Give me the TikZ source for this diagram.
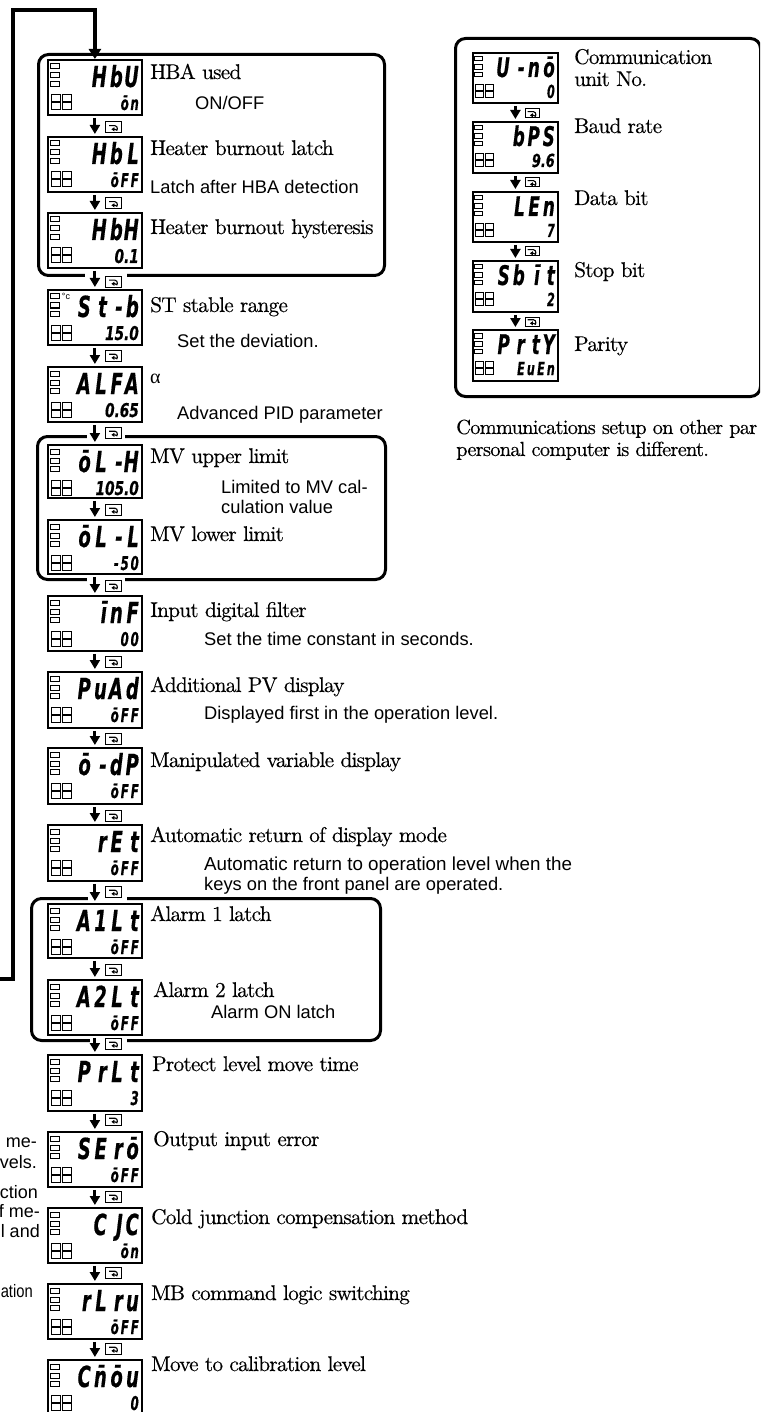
\documentclass[tikz,border=0pt]{standalone}
\usepackage{fontspec}
\usepackage{graphicx}
\usetikzlibrary{arrows.meta,calc}
\newfontfamily\dfont[FakeBold=0.6]{DejaVu Sans}
\newfontfamily\lsans{Liberation Sans}
\newfontfamily\lserif{Liberation Serif}
\newfontfamily\lmser[Extension=.otf,FakeBold=0.25,LetterSpace=-3.6]{lmroman10-regular}
\makeatletter
\newcommand\segrow[3]{\@tfor\seg@x:=#3\do{\makebox[#2][r]{\scalebox{#1}[1]{\seg@x}}}}
\makeatother
\newcommand\nums[1]{\scalebox{1.16}[1]{#1}}
\newcommand\bigf{\fontsize{29}{29}\selectfont\dfont\bfseries\itshape}
\newcommand\smlf{\fontsize{19}{19}\selectfont\dfont\bfseries\itshape}
\newcommand\bigp{16pt}
\newcommand\smlp{10pt}
\newcommand\bigy{28}
\newcommand\smly{51}
\newcommand\dscale{1}
\newcounter{lbl}
\tikzset{
  dispbox/.style={draw,line width=1.8,fill=white,inner sep=0,anchor=north west},
  lamp/.style={line width=1},
  segtext/.style={anchor=base east,inner sep=0},
  serlabel/.style={anchor=base west,inner sep=0,font=\fontsize{21.3}{21.3}\selectfont\lmser},
  sanlabel/.style={anchor=base west,inner sep=0,font=\fontsize{18.3}{18.3}\selectfont\lsans},
  sanright/.style={anchor=base east,inner sep=0,font=\fontsize{18}{18}\selectfont\lsans},
  grp/.style={draw,line width=3,rounded corners=10,inner sep=0,anchor=north west},
  gapfill/.style={fill=white,draw=none},
  stepline/.style={line width=3,-{Stealth[length=9,width=10,inset=0]},shorten >=2,shorten <=2},
  fbline/.style={line width=3.6,miter limit=10,-{Stealth[length=10,width=12,inset=0]}},
  keybox/.style={draw,line width=1,fill=white,inner sep=0},
  keyglyph/.style={line width=1.1,-{Stealth[length=3,width=4,inset=0]}},
}
\newcommand\disp[7]{%
  \begin{scope}[shift={(#2,#3)}]
    \node[dispbox,minimum width=#4pt,minimum height=#5pt] (#1) at (0,0) {};
    \begin{scope}[scale=\dscale]
      \draw[lamp] (3,5) rectangle (12,10);
      \draw[lamp] (3,14) rectangle (12,19);
      \draw[lamp] (3,22.5) rectangle (12,27.5);
      \draw[lamp] (4,36) rectangle (13,43);
      \draw[lamp] (15,36) rectangle (24,43);
      \draw[lamp] (4,44) rectangle (13,51);
      \draw[lamp] (15,44) rectangle (24,51);
    \end{scope}
    \node[segtext] (#1big) at ({#4-2},\bigy) {\bigf\segrow{.62}{\bigp}{#6}};
    \node[segtext] (#1sml) at ({#4-2},\smly) {\smlf\segrow{.62}{\smlp}{#7}};
  \end{scope}}
\newcommand\keyic[5]{% name, cx, cy, w, h
  \node[keybox,minimum width=#4pt,minimum height=#5pt] (#1) at (#2,#3) {};
  \draw[keyglyph] ($(#1.center)+(-4.5,-1.8)$) -- ++(6,0) .. controls +(3.2,0) and +(3.2,3.6) .. ++(0,3.6) -- ++(-3.6,0);}
\newcommand\ser[3]{\stepcounter{lbl}\node[serlabel] (lab\thelbl) at (#1,#2) {#3};}
\newcommand\san[3]{\stepcounter{lbl}\node[sanlabel] (lab\thelbl) at (#1,#2) {#3};}
\newcommand\sanr[3]{\stepcounter{lbl}\node[sanright] (lab\thelbl) at (#1,#2) {#3};}
\begin{document}
\begin{tikzpicture}[x=1pt,y=-1pt]
\useasboundingbox (0,0) rectangle (760,1412);
\clip (0,0) rectangle (760,1412);
\fill[white] (0,0) rectangle (760,1412);
% groups
\node[grp,minimum width=346pt,minimum height=221pt] (g1) at (37,53) {};
\node[grp,minimum width=348pt,minimum height=143pt] (g2) at (36,435) {};
\node[grp,minimum width=349pt,minimum height=142pt] (g3) at (30,897) {};
\node[grp,minimum width=305pt,minimum height=358pt] (g4) at (454,37) {};
\fill[gapfill] (85,270) rectangle (127,278);
\fill[gapfill] (87,431) rectangle (125,439);
\fill[gapfill] (87,574) rectangle (125,582);
\fill[gapfill] (88,893) rectangle (127,901);
\fill[gapfill] (90,1035) rectangle (127,1043);
% displays main
\disp{d1}{47}{59}{94}{55}{HbU}{ōn}
\disp{d2}{47}{136}{94}{55}{HbL}{ōFF}
\disp{d3}{47}{212}{94}{55}{HbH}{{\nums{0.1}}}
\disp{d4}{47}{289}{94}{55}{St-b}{{\nums{15.0}}}
\disp{d5}{47}{366}{94}{55}{ALFA}{{\nums{0.65}}}
\disp{d6}{47}{444}{94}{53}{ōL-H}{{\nums{105.0}}}
\disp{d7}{47}{519}{94}{54}{ōL-L}{-50}
\disp{d8}{47}{595}{94}{55}{īnF}{00}
\disp{d9}{47}{671}{94}{56}{PuAd}{ōFF}
\disp{d10}{47}{747}{94}{56}{ō-dP}{ōFF}
\disp{d11}{47}{824}{94}{56}{rEt}{ōFF}
\disp{d12}{47}{903}{94}{54}{A1Lt}{ōFF}
\disp{d13}{47}{979}{94}{55}{A2Lt}{ōFF}
\disp{d14}{47}{1054}{94}{56}{PrLt}{3}
\disp{d15}{47}{1131}{94}{55}{SErō}{ōFF}
\disp{d16}{47}{1207}{94}{55}{CJC}{ōn}
\disp{d17}{47}{1283}{94}{55}{rLru}{ōFF}
\disp{d18}{47}{1359}{94}{56}{C{\=n}ōu}{0}
\node[anchor=center,inner sep=0,font=\fontsize{9}{9}\selectfont\lsans] (deg) at (66,296) {°c};
% displays right
\renewcommand\dscale{0.9}
\renewcommand\bigf{\fontsize{27}{27}\selectfont\dfont\bfseries\itshape}
\renewcommand\smlf{\fontsize{18}{18}\selectfont\dfont\bfseries\itshape}
\renewcommand\bigp{15pt}
\renewcommand\bigy{25}
\renewcommand\smly{46}
\disp{r1}{472}{52}{85}{50}{U-nō}{0}
\disp{r2}{472}{121}{85}{51}{bPS}{{\nums{9.6}}}
\disp{r3}{472}{191}{85}{50}{LEn}{7}
\disp{r4}{472}{260}{85}{51}{Sbīt}{2}
\disp{r5}{472}{329}{85}{51}{PrtY}{EuEn}
% feedback
\coordinate (fbstart) at (-2,979);
\coordinate (fbleft) at (13,10);
\draw[fbline] (fbstart) -| (fbleft) -| (d1.north);
% steps
\foreach \a/\b in {d1/d2,d2/d3,d3/d4,d4/d5,d5/d6,d6/d7,d7/d8,d8/d9,d9/d10,d10/d11,d11/d12,d12/d13,d13/d14,d14/d15,d15/d16,d16/d17,d17/d18,r1/r2,r2/r3,r3/r4,r4/r5}
  \draw[stepline] (\a.south) -- (\b.north);
% key icons
\foreach \n/\y in {k1/127.5,k2/203.5,k3/282,k4/356,k5/433,k6/510,k7/586,k8/662,k9/739,k10/816,k11/892,k12/970,k13/1044,k14/1120,k15/1197,k16/1273,k17/1349}
  {\keyic{\n}{113.5}{\y}{16}{11}}
\keyic{k18}{532}{113.5}{14}{9}
\keyic{k19}{532}{182.5}{14}{9}
\keyic{k20}{532}{251.5}{14}{9}
\keyic{k21}{532}{321.5}{14}{9}
% serif labels
\ser{150}{79}{HBA used}
\ser{150}{155}{Heater burnout latch}
\ser{150}{234}{Heater burnout hysteresis}
\ser{150}{312}{ST stable range}
\stepcounter{lbl}\node[anchor=base west,inner sep=0,font=\fontsize{20}{20}\selectfont\lserif] (lab\thelbl) at (150,383) {α};
\ser{150}{463}{MV upper limit}
\ser{150}{541}{MV lower limit}
\ser{150}{617}{Input digital filter}
\ser{150}{692}{Additional PV display}
\ser{150}{767}{Manipulated variable display}
\ser{150}{842}{Automatic return of display mode}
\ser{150}{921}{Alarm 1 latch}
\ser{153}{997}{Alarm 2 latch}
\ser{152}{1071}{Protect level move time}
\ser{153}{1146}{Output input error}
\ser{151}{1224}{Cold junction compensation method}
\ser{151}{1300}{MB command logic switching}
\ser{151}{1371}{Move to calibration level}
\ser{574}{64}{Communication}
\ser{574}{86}{unit No.}
\ser{574}{133}{Baud rate}
\ser{574}{205}{Data bit}
\ser{574}{277}{Stop bit}
\ser{574}{351}{Parity}
\ser{456}{434}{\fontsize{20.4}{20.4}\selectfont Communications setup on other par}
\ser{456}{456}{\fontsize{20.4}{20.4}\selectfont personal computer is different.}
% sans labels
\san{195}{110}{ON/OFF}
\san{150}{194}{Latch after HBA detection}
\san{177}{347}{Set the deviation.}
\san{177}{419}{Advanced PID parameter}
\san{221}{493}{Limited to MV cal-}
\san{221}{513}{culation value}
\san{204}{645}{Set the time constant in seconds.}
\san{204}{719}{Displayed first in the operation level.}
\san{204}{870}{\fontsize{18.8}{18.8}\selectfont Automatic return to operation level when the}
\san{204}{890}{keys on the front panel are operated.}
\san{211}{1018}{Alarm ON latch}
\sanr{37}{1147}{me-}
\sanr{37}{1168}{vels.}
\sanr{38}{1198}{ction}
\sanr{40}{1217}{f me-}
\sanr{40}{1237}{l and}
\sanr{33}{1297}{\scalebox{.82}[1]{ation}}
\end{tikzpicture}
\end{document}
